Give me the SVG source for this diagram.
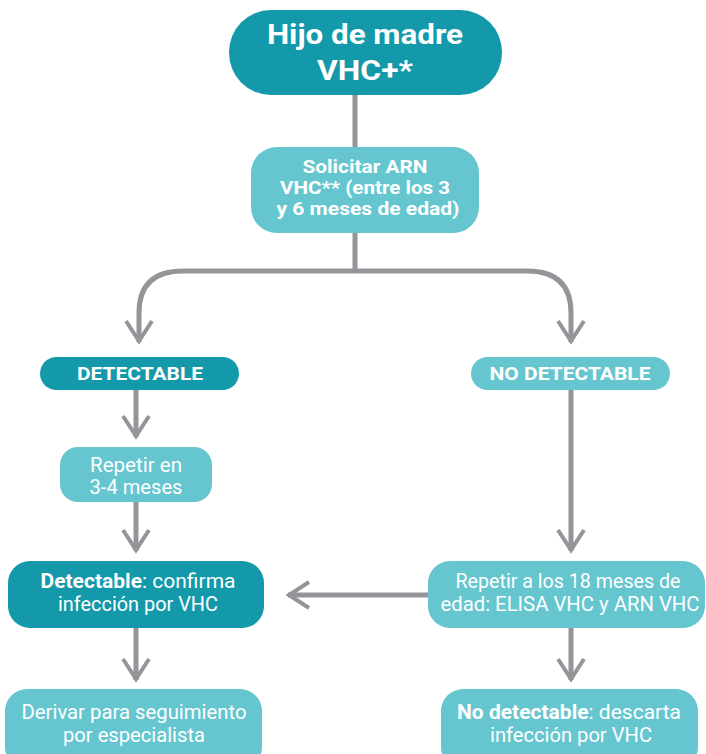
<svg xmlns="http://www.w3.org/2000/svg" width="706" height="754" viewBox="0 0 706 754">
<defs>
<style>
.dark{fill:#1399a9}
.light{fill:#65c6cf}
.t{font-family:Roboto,"Liberation Sans",sans-serif;fill:#ffffff;text-anchor:middle;font-size:20px;font-weight:400}
.b{font-weight:bold}
.s18{font-size:18px}
.s19{font-size:19px}
.conn{fill:none;stroke:#939598;stroke-width:5}
</style>
<marker id="ah" markerUnits="userSpaceOnUse" markerWidth="30" markerHeight="34" viewBox="-26 -17 30 34" refX="0" refY="0" orient="auto">
<path d="M-21,-13 L-1,0 L-21,13" fill="none" stroke="#939598" stroke-width="4"/>
</marker>
</defs>
<rect width="706" height="754" fill="#ffffff"/>
<g id="connectors">
<line class="conn" x1="355" y1="94" x2="355" y2="148"/>
<line class="conn" x1="355" y1="232" x2="355" y2="271"/>
<path class="conn" d="M355,271 H183 Q139,271 139,313 V342" marker-end="url(#ah)"/>
<path class="conn" d="M355,271 H527 Q571,271 571,313 V342" marker-end="url(#ah)"/>
<line class="conn" x1="136" y1="390" x2="136" y2="437" marker-end="url(#ah)"/>
<line class="conn" x1="136" y1="502" x2="136" y2="551" marker-end="url(#ah)"/>
<line class="conn" x1="571" y1="390" x2="571" y2="551" marker-end="url(#ah)"/>
<line class="conn" x1="430" y1="595" x2="288" y2="595" marker-end="url(#ah)"/>
<line class="conn" x1="136" y1="628" x2="136" y2="680" marker-end="url(#ah)"/>
<line class="conn" x1="571" y1="628" x2="571" y2="680" marker-end="url(#ah)"/>
</g>
<g id="n1">
<rect class="dark" x="229" y="10" width="273" height="85" rx="42"/>
<text class="t b" x="365" y="44" style="font-size:28px" textLength="196" lengthAdjust="spacingAndGlyphs">Hijo de madre</text>
<text class="t b" x="365" y="80" style="font-size:28px" textLength="96" lengthAdjust="spacingAndGlyphs">VHC+*</text>
</g>
<g id="n2">
<rect class="light" x="251" y="147" width="228" height="86" rx="26"/>
<text class="t b s18" x="365" y="173" textLength="125" lengthAdjust="spacingAndGlyphs">Solicitar ARN</text>
<text class="t b s18" x="365" y="194" textLength="170" lengthAdjust="spacingAndGlyphs">VHC** (entre los 3</text>
<text class="t b s18" x="368" y="215" textLength="183" lengthAdjust="spacingAndGlyphs">y 6 meses de edad)</text>
</g>
<g id="n3">
<rect class="dark" x="40" y="357" width="199" height="33" rx="16.5"/>
<text class="t b s19" x="140" y="380" textLength="126" lengthAdjust="spacingAndGlyphs">DETECTABLE</text>
</g>
<g id="n4">
<rect class="light" x="471" y="357" width="199" height="33" rx="16.5"/>
<text class="t b s19" x="570" y="380" textLength="161" lengthAdjust="spacingAndGlyphs">NO DETECTABLE</text>
</g>
<g id="n5">
<rect class="light" x="60" y="447" width="152" height="55" rx="18"/>
<text class="t" x="136" y="472" textLength="92" lengthAdjust="spacingAndGlyphs">Repetir en</text>
<text class="t" x="136" y="494" textLength="93" lengthAdjust="spacingAndGlyphs">3-4 meses</text>
</g>
<g id="n6">
<rect class="dark" x="8" y="561" width="256" height="67" rx="22"/>
<text class="t" x="138" y="588" textLength="195" lengthAdjust="spacingAndGlyphs"><tspan class="b">Detectable</tspan>: confirma</text>
<text class="t" x="138" y="611" textLength="160" lengthAdjust="spacingAndGlyphs">infección por VHC</text>
</g>
<g id="n7">
<rect class="light" x="428" y="561" width="277" height="67" rx="22"/>
<text class="t" x="568" y="588" textLength="225" lengthAdjust="spacingAndGlyphs">Repetir a los 18 meses de</text>
<text class="t" x="570" y="611" textLength="259" lengthAdjust="spacingAndGlyphs">edad: ELISA VHC y ARN VHC</text>
</g>
<g id="n8">
<rect class="light" x="5" y="689" width="257" height="80" rx="22"/>
<text class="t" x="134" y="719" textLength="225" lengthAdjust="spacingAndGlyphs">Derivar para seguimiento</text>
<text class="t" x="134" y="742" textLength="142" lengthAdjust="spacingAndGlyphs">por especialista</text>
</g>
<g id="n9">
<rect class="light" x="441" y="689" width="257" height="80" rx="22"/>
<text class="t" x="569" y="719" textLength="224" lengthAdjust="spacingAndGlyphs"><tspan class="b">No detectable</tspan>: descarta</text>
<text class="t" x="571" y="742" textLength="162" lengthAdjust="spacingAndGlyphs">infección por VHC</text>
</g>
</svg>
